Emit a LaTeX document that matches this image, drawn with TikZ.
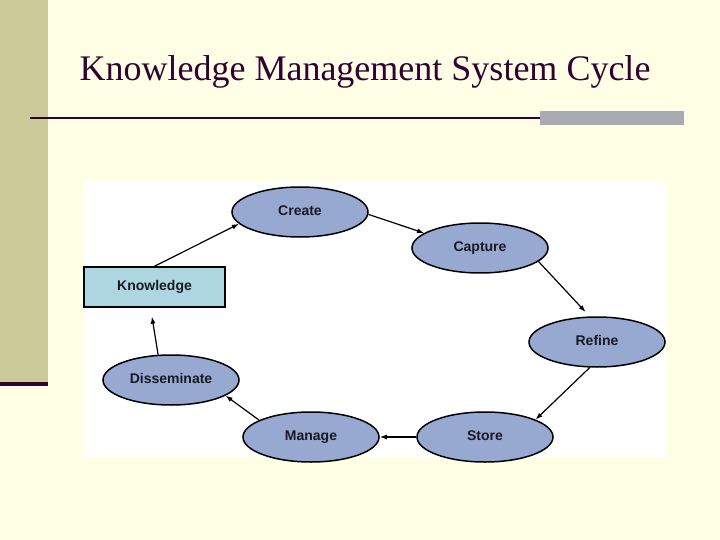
\documentclass[tikz,border=0pt]{standalone}
\usepackage{fontspec}
\setmainfont{Liberation Serif}
\setsansfont{Liberation Sans}
\usetikzlibrary{shapes.geometric,arrows.meta}
\definecolor{bg}{RGB}{255,255,229}
\definecolor{barcol}{RGB}{203,203,153}
\definecolor{darkline}{RGB}{51,0,51}
\definecolor{graybar}{RGB}{170,170,178}
\definecolor{ellfill}{RGB}{151,169,209}
\definecolor{boxfill}{RGB}{173,214,224}
\definecolor{txt}{RGB}{25,25,35}
\newcommand{\up}[1]{\raisebox{2.5pt}{#1}}
\tikzset{
  stage/.style={ellipse, draw=black, line width=1.5pt, fill=ellfill, minimum width=136pt, minimum height=50pt, inner sep=0pt, font=\sffamily\bfseries\fontsize{14}{16}\selectfont, text=txt},
  kbox/.style={rectangle, draw=black, line width=1.5pt, fill=boxfill, minimum width=141pt, minimum height=40pt, inner sep=0pt, font=\sffamily\bfseries\fontsize{14}{16}\selectfont, text=txt},
  arr/.style={draw=black, line width=1.2pt, -{Latex[length=7pt,width=5pt]}}
}
\begin{document}
\begin{tikzpicture}[x=1pt,y=-1pt]
\useasboundingbox (0,0) rectangle (720,540);
\fill[bg] (0,0) rectangle (720,540);
\fill[barcol] (0,0) rectangle (48,382);
\fill[darkline] (0,382) rectangle (48,386);
\node[anchor=base, text=darkline, font=\fontsize{36}{40}\selectfont, inner sep=0pt] (title) at (365,81) {Knowledge Management System Cycle};
\fill[graybar] (540,111) rectangle (684,125);
\draw[darkline, line width=2pt] (30,118) -- (540,118);
\fill[white] (84,181) rectangle (666,457);
\node[stage] (create) at (300,212) {\up{Create}};
\node[stage] (capture) at (480,248) {\up{Capture}};
\node[stage] (refine) at (597,342) {\up{Refine}};
\node[stage] (store) at (485,437) {\up{Store}};
\node[stage] (manage) at (311,437) {\up{Manage}};
\node[stage] (dissem) at (171,380) {\up{Disseminate}};
\node[kbox] (know) at (154.5,287) {Knowledge};
\draw[arr] (know.north) -- (create.191);
\draw[arr] (create.358) -- (capture.165);
\draw[arr, shorten >=6pt] (capture.-13) -- (refine.106);
\draw[arr] (refine.254) -- (store.19);
\draw[arr] (store.west) -- (manage.east);
\draw[arr] (manage.162) -- (dissem.-16);
\draw[arr, shorten >=9pt] (dissem.117) -- ([xshift=-4pt]know.south);
\end{tikzpicture}
\end{document}
